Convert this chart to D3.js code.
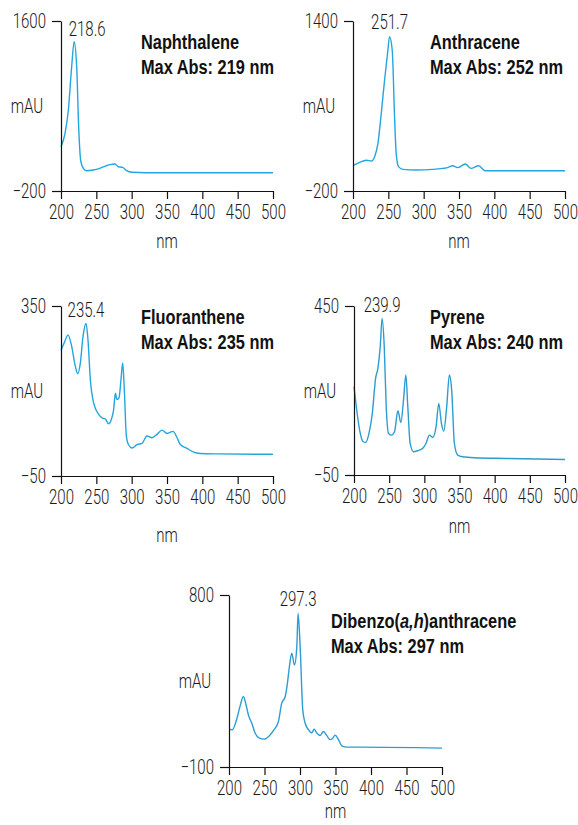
<!DOCTYPE html>
<html>
<head>
<meta charset="utf-8">
<script src="https://cdn.jsdelivr.net/npm/d3@7"></script>
<style>
  html, body { margin: 0; padding: 0; background: #fff; }
  svg { display: block; }
  .tick text, .lbl { font-family: Roboto, "Liberation Sans", sans-serif; font-weight: 300; fill: #1a1a1a; }
  .title { font-family: "Liberation Sans", Arial, sans-serif; font-weight: bold; fill: #111; }
</style>
</head>
<body>
<svg id="chart" width="578" height="825"></svg>
<script>
// ---------------- data ----------------
const xTicks = [200, 250, 300, 350, 400, 450, 500];

const naphNm  = [200, 205.7, 210.4, 215.1, 218.6, 222.2, 225, 227.8, 231.6, 236.3, 245.7, 255, 264.6, 269.3, 276.4, 281, 287.3, 293, 300, 320, 500];
const naphAbs = [269, 411, 658, 1116, 1381, 1116, 481, 128, 40, 15, 22, 40, 68, 79, 86, 57, 50, 15, -2, -6, -6];

const anthNm  = [200, 209.4, 218.8, 225.9, 230.6, 235.3, 240, 244.7, 249.4, 251.7, 255.5, 258.8, 261.1, 264.4, 270.5, 289.3, 312.9, 327, 334, 341, 348, 359, 367, 377.7, 387, 500];
const anthAbs = [38, 70, 89, 82, 123, 249, 531, 845, 1127, 1253, 1127, 500, 154, 29, 4, -2, 4, 13, 20, 38, 20, 54, 13, 38, -9, -9];

const fluoNm  = [200, 205.2, 209.9, 214.6, 220.3, 223.6, 227.4, 231.1, 235.4, 238.2, 241.5, 246.2, 253.3, 258, 262.7, 267.5, 271.2, 274.5, 276.9, 279.2, 282.1, 284.9, 287.3, 289.6, 292.5, 295.8, 300.5, 307.5, 314.6, 321.7, 328.8, 335.8, 343, 350, 358.5, 364.2, 368.9, 378.3, 387.7, 397.2, 420.8, 500];
const fluoAbs = [245, 266, 282, 259, 208, 191, 216, 278, 309, 270, 177, 122, 95, 87, 84, 73, 83, 106, 145, 130, 134, 177, 216, 153, 44, 23, 16, 24, 27, 44, 40, 48, 58, 50, 55, 40, 24, 15, 6, 3, 2, 1];

const pyreNm  = [200, 203.3, 208, 212.8, 216.5, 221.3, 226, 230.7, 234, 237.3, 239.9, 243, 245.8, 249.1, 252.9, 257.6, 262.4, 266.6, 270.4, 273.7, 276.5, 279.8, 284.6, 290.7, 297.8, 302.5, 307.2, 312, 316.7, 320.5, 324.3, 327.6, 331.8, 335.6, 338.9, 342.7, 347.4, 354.5, 371, 415.9, 500];
const pyreAbs = [211, 152, 83, 49, 46, 73, 132, 236, 266, 330, 413, 330, 152, 73, 68, 78, 140, 105, 172, 246, 152, 44, 19, 22, 29, 44, 68, 61, 93, 162, 103, 80, 152, 246, 201, 44, 9, 4, 1, -1, -4];

const dibeNm  = [200, 204.7, 209.9, 215.5, 220.2, 224, 227.3, 232, 236.7, 242.8, 249.4, 256.9, 263.5, 269.6, 274.3, 279, 282.3, 285.1, 288.4, 292.2, 295.5, 297.3, 300.2, 303.9, 307.2, 311.9, 316.6, 319.9, 323.7, 328.4, 333.1, 337.8, 342.5, 346.2, 349.5, 354.2, 358.9, 366, 384.8, 500];
const dibeAbs = [98, 95, 138, 217, 269, 226, 173, 130, 78, 51, 46, 64, 95, 138, 234, 266, 339, 426, 495, 434, 530, 704, 530, 199, 130, 95, 78, 98, 78, 65, 86, 64, 43, 51, 67, 43, 11, 4, 4, -1];

const names    = ["Naphthalene", "Anthracene", "Fluoranthene", "Pyrene", "Dibenzo(a,h)anthracene"];
const maxAbs   = [219, 252, 235, 240, 297];
const peakNm   = [218.6, 251.7, 235.4, 239.9, 297.3];
const yDomains = [[-200, 1600], [-200, 1400], [-50, 350], [-50, 450], [-100, 800]];

// ---------------- layout ----------------
const FS = 20;          // label font size
const NARROW = 0.75;    // horizontal condensing of labels
const layout = [
  { nm: naphNm, abs: naphAbs, x0: 61,  x1: 273, y0: 21,  y1: 191, color: "#22a6e0", peakDx: 13, peakY: 36,  tx: 141, ty: 49,  nmY: 248 },
  { nm: anthNm, abs: anthAbs, x0: 353, x1: 565, y0: 21,  y1: 191, color: "#22a6e0", peakDx: 0,  peakY: 29,  tx: 430, ty: 49,  nmY: 248 },
  { nm: fluoNm, abs: fluoAbs, x0: 61,  x1: 273, y0: 306, y1: 476, color: "#22a6e0", peakDx: 0,  peakY: 317, tx: 141, ty: 324, nmY: 542 },
  { nm: pyreNm, abs: pyreAbs, x0: 354, x1: 565, y0: 306, y1: 475, color: "#2b9dd2", peakDx: 0,  peakY: 312, tx: 430, ty: 324, nmY: 533 },
  { nm: dibeNm, abs: dibeAbs, x0: 229, x1: 442, y0: 595, y1: 767, color: "#2b9dd2", peakDx: 0,  peakY: 606, tx: 331, ty: 628, nmY: 818 }
];

const svg = d3.select("#chart");

// horizontally condense a text element around its own anchor point
function condense(sel, s) {
  sel.each(function () {
    const el = d3.select(this);
    const x = +el.attr("x") || 0, y = +el.attr("y") || 0;
    el.attr("x", 0).attr("y", 0).attr("transform", `translate(${x},${y}) scale(${s},1)`);
  });
}

// condensed title: measure once, scale horizontally
const probe = svg.append("text").attr("class", "title").attr("font-size", 19.5).text("Max Abs: 219 nm");
const titleScale = 133 / probe.node().getComputedTextLength();
probe.remove();

layout.forEach((p, i) => {
  const x = d3.scaleLinear().domain([200, 500]).range([p.x0, p.x1]);
  const y = d3.scaleLinear().domain(yDomains[i]).range([p.y1, p.y0]);
  const g = svg.append("g");

  // line
  const pts = p.nm.map((n, k) => [n, p.abs[k]]);
  g.append("path")
    .datum(pts)
    .attr("fill", "none")
    .attr("stroke", p.color)
    .attr("stroke-width", 1.4)
    .attr("d", d3.line().x(d => x(d[0])).y(d => y(d[1])).curve(d3.curveMonotoneX));

  // axes
  const ya = g.append("g").attr("transform", `translate(${p.x0},0)`)
    .call(d3.axisLeft(y).tickValues(yDomains[i]).tickSize(9).tickSizeOuter(0).tickPadding(6)
      .tickFormat(v => v < 0 ? "\u2212" + Math.abs(v) : String(v)));
  const xa = g.append("g").attr("transform", `translate(0,${p.y1})`)
    .call(d3.axisBottom(x).tickValues(xTicks).tickSize(8).tickSizeOuter(0).tickPadding(6));
  [ya, xa].forEach(a => {
    a.selectAll("path, line").attr("stroke", "#111").attr("stroke-width", 1.2);
    a.selectAll("text").attr("font-size", FS).call(condense, NARROW);
  });

  // axis labels
  g.append("text").attr("class", "lbl").attr("font-size", FS)
    .attr("x", p.x0 - 34).attr("y", (p.y0 + p.y1) / 2 + 7).attr("text-anchor", "middle").text("mAU")
    .call(condense, NARROW);
  g.append("text").attr("class", "lbl").attr("font-size", FS)
    .attr("x", (p.x0 + p.x1) / 2).attr("y", p.nmY).attr("text-anchor", "middle").text("nm")
    .call(condense, NARROW);

  // peak label
  g.append("text").attr("class", "lbl").attr("font-size", FS)
    .attr("x", x(peakNm[i]) + p.peakDx).attr("y", p.peakY).attr("text-anchor", "middle")
    .text(peakNm[i].toFixed(1))
    .call(condense, NARROW);

  // title (bold condensed)
  const t = g.append("text").attr("class", "title").attr("font-size", 19.5)
    .attr("transform", `translate(${p.tx},${p.ty}) scale(${titleScale},1)`);
  if (i === 4) {
    t.append("tspan").text("Dibenzo(");
    t.append("tspan").attr("font-style", "italic").text("a,h");
    t.append("tspan").text(")anthracene");
  } else {
    t.text(names[i]);
  }
  g.append("text").attr("class", "title").attr("font-size", 19.5)
    .attr("transform", `translate(${p.tx},${p.ty + 25}) scale(${titleScale},1)`)
    .text(`Max Abs: ${maxAbs[i]} nm`);
});
</script>
</body>
</html>
